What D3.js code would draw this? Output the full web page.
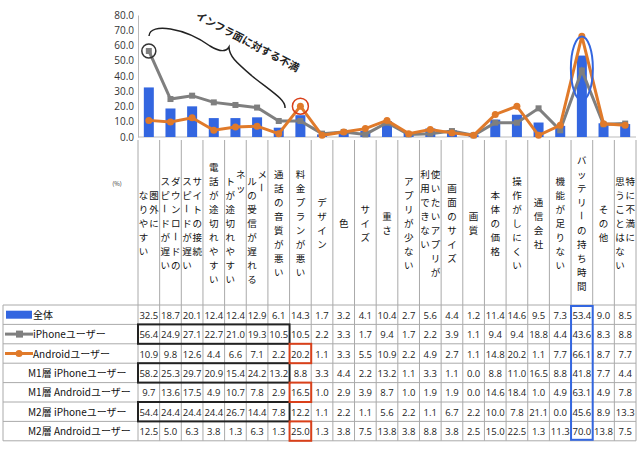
<!DOCTYPE html>
<html><head><meta charset="utf-8">
<script src="https://cdn.jsdelivr.net/npm/d3@7"></script>
<style>body{margin:0;background:#fff}text{font-family:"Noto Sans CJK JP",sans-serif}</style>
</head><body><svg id="c" width="640" height="450"></svg>
<script>
const categories=[["圏外に","なりやすい"],["ダウンロードの","スピードが遅い"],["サイトの接続","スピードが遅い"],["電話が途切れやすい"],["ネッ","トが途切れやすい"],["メー","ルの受信が遅れる"],["通話の音質が悪い"],["料金プランが悪い"],["デザイン"],["色"],["サイズ"],["重さ"],["アプリが少ない"],["使いたいアプリが","利用できない"],["画面のサイズ"],["画質"],["本体の価格"],["操作がしにくい"],["通信会社"],["機能が足りない"],["バッテリーの持ち時間"],["その他"],["特に不満に","思うことはない"]];
const seriesNames=["全体","iPhoneユーザー","Androidユーザー","M1層 iPhoneユーザー","M1層 Androidユーザー","M2層 iPhoneユーザー","M2層 Androidユーザー"];
const allValues=[32.5,18.7,20.1,12.4,12.4,12.9,6.1,14.3,1.7,3.2,4.1,10.4,2.7,5.6,4.4,1.2,11.4,14.6,9.5,7.3,53.4,9.0,8.5];
const iphoneValues=[56.4,24.9,27.1,22.7,21.0,19.3,10.5,10.5,2.2,3.3,1.7,9.4,1.7,2.2,3.9,1.1,9.4,9.4,18.8,4.4,43.6,8.3,8.8];
const androidValues=[10.9,9.8,12.6,4.4,6.6,7.1,2.2,20.2,1.1,3.3,5.5,10.9,2.2,4.9,2.7,1.1,14.8,20.2,1.1,7.7,66.1,8.7,7.7];
const m1IphoneValues=[58.2,25.3,29.7,20.9,15.4,24.2,13.2,8.8,3.3,4.4,2.2,13.2,1.1,3.3,1.1,0.0,8.8,11.0,16.5,8.8,41.8,7.7,4.4];
const m1AndroidValues=[9.7,13.6,17.5,4.9,10.7,7.8,2.9,16.5,1.0,2.9,3.9,8.7,1.0,1.9,1.9,0.0,14.6,18.4,1.0,4.9,63.1,4.9,7.8];
const m2IphoneValues=[54.4,24.4,24.4,24.4,26.7,14.4,7.8,12.2,1.1,2.2,1.1,5.6,2.2,1.1,6.7,2.2,10.0,7.8,21.1,0.0,45.6,8.9,13.3];
const m2AndroidValues=[12.5,5.0,6.3,3.8,1.3,6.3,1.3,25.0,1.3,3.8,7.5,13.8,3.8,8.8,3.8,2.5,15.0,22.5,1.3,11.3,70.0,13.8,7.5];
const yTicks=[0,10,20,30,40,50,60,70,80];
const rows=[allValues,iphoneValues,androidValues,m1IphoneValues,m1AndroidValues,m2IphoneValues,m2AndroidValues];

const svg=d3.select("#c");
const x=d3.scaleBand().domain(d3.range(categories.length)).range([138,636]);
const y=d3.scaleLinear().domain([0,80]).range([137,15]);
const blue="#3366e0",grey="#7f7f7f",orange="#e07a2a";

const ya=svg.append("g").attr("transform","translate(138,0)").call(d3.axisLeft(y).tickValues(yTicks).tickFormat(d3.format(".1f")).tickSize(0).tickPadding(4));
ya.select(".domain").attr("stroke","#bbb");
ya.selectAll("text").attr("font-size",10).attr("fill","#333").style("font-family","Open Sans");
svg.append("line").attr("x1",138).attr("x2",636).attr("y1",y(0)).attr("y2",y(0)).attr("stroke","#bbb");

svg.selectAll("rect.bar").data(allValues).join("rect").attr("x",(d,i)=>x(i)+x.bandwidth()/2-5).attr("width",10)
 .attr("y",d=>y(d)).attr("height",d=>y(0)-y(d)).attr("fill",blue);
const line=d3.line().x((d,i)=>x(i)+x.bandwidth()/2).y(d=>y(d));
svg.append("path").attr("d",line(iphoneValues)).attr("fill","none").attr("stroke",grey).attr("stroke-width",3);
svg.selectAll("rect.ip").data(iphoneValues).join("rect").attr("x",(d,i)=>x(i)+x.bandwidth()/2-3).attr("y",d=>y(d)-3).attr("width",6).attr("height",6).attr("fill",grey);
svg.append("path").attr("d",line(androidValues)).attr("fill","none").attr("stroke",orange).attr("stroke-width",3);
svg.selectAll("circle.an").data(androidValues).join("circle").attr("cx",(d,i)=>x(i)+x.bandwidth()/2).attr("cy",d=>y(d)).attr("r",3.5).attr("fill",orange);

const cx=i=>x(i)+x.bandwidth()/2;
svg.append("circle").attr("cx",cx(0)).attr("cy",y(iphoneValues[0])).attr("r",7).attr("fill","none").attr("stroke","#333").attr("stroke-width",1.5);
svg.append("circle").attr("cx",cx(7)).attr("cy",y(androidValues[7])).attr("r",8).attr("fill","none").attr("stroke","#d9401a").attr("stroke-width",1.5);
svg.append("ellipse").attr("cx",cx(20)).attr("cy",y(45)).attr("rx",11).attr("ry",32).attr("fill","none").attr("stroke",blue).attr("stroke-width",2);
svg.append("path").attr("d",`M149,36 C150,22 185,28 210,46 C220,52 226,52 229,47 C229,56 236,62 252,76 C272,92 286,100 285,108`).attr("fill","none").attr("stroke","#222").attr("stroke-width",1.5);
svg.append("text").attr("transform","translate(195,18) rotate(28)").attr("font-size",10.5).attr("font-weight","bold").attr("fill","#222").text("インフラ面に対する不満");

const tTop=140,hdrH=165,rowH=19.4;
const g=svg.append("g");
const bottom=tTop+hdrH+rowH*7;
for(let i=0;i<=categories.length;i++){const xx=i<categories.length?x(i):636;g.append("line").attr("x1",xx).attr("x2",xx).attr("y1",tTop).attr("y2",bottom).attr("stroke","#aaa");}
for(let r=0;r<=7;r++){const yy=tTop+hdrH+r*rowH;g.append("line").attr("x1",3).attr("x2",636).attr("y1",yy).attr("y2",yy).attr("stroke","#aaa");}
g.append("line").attr("x1",3).attr("x2",3).attr("y1",tTop+hdrH).attr("y2",bottom).attr("stroke","#aaa");
svg.append("text").attr("x",117).attr("y",186).attr("font-size",6).attr("fill","#333").attr("text-anchor","middle").text("(%)");
const fs=9.5,step=14;
function vtext(str,xc,y0){
  [...str].forEach((ch,j)=>{
    const yc=y0+j*step+step/2;
    const t=svg.append("text").attr("font-size",fs).attr("fill","#111").attr("text-anchor","middle").attr("dominant-baseline","central").text(ch);
    if(ch==="ー") t.attr("transform",`translate(${xc},${yc}) rotate(90)`);
    else t.attr("x",xc).attr("y",yc);
  });
}
const mid=tTop+hdrH/2;
categories.forEach((lines,i)=>{
  const maxLen=d3.max(lines,l=>l.length);
  const y0=Math.max(tTop+2,mid-maxLen*step/2);
  if(lines.length===1) vtext(lines[0],cx(i),y0);
  else { vtext(lines[0],cx(i)+5.2,y0); vtext(lines[1],cx(i)-5.2,y0+(lines[0].length<=2?step*0.5:0)); }
});
rows.forEach((vals,r)=>{
  const yy=tTop+hdrH+r*rowH+rowH/2+4;
  vals.forEach((v,i)=>svg.append("text").attr("x",cx(i)).attr("y",yy).attr("text-anchor","middle").attr("font-size",9.5).attr("fill","#222").style("font-family","Open Sans").text(v.toFixed(1)));
  svg.append("text").attr("x",r<3?33:28).attr("y",yy).attr("font-size",10).attr("fill","#111").text(seriesNames[r]);
});
const ly=r=>tTop+hdrH+r*rowH+rowH/2;
svg.append("rect").attr("x",6).attr("y",ly(0)-4).attr("width",26).attr("height",8).attr("fill",blue);
svg.append("line").attr("x1",5).attr("x2",33).attr("y1",ly(1)).attr("y2",ly(1)).attr("stroke",grey).attr("stroke-width",3);
svg.append("rect").attr("x",16).attr("y",ly(1)-3.5).attr("width",7).attr("height",7).attr("fill",grey);
svg.append("line").attr("x1",5).attr("x2",33).attr("y1",ly(2)).attr("y2",ly(2)).attr("stroke",orange).attr("stroke-width",3);
svg.append("circle").attr("cx",19).attr("cy",ly(2)).attr("r",3.5).attr("fill",orange);
[1,3,5].forEach(r=>svg.append("rect").attr("x",x(0)).attr("y",tTop+hdrH+r*rowH).attr("width",x(7)-x(0)).attr("height",rowH).attr("fill","none").attr("stroke","#222").attr("stroke-width",2));
[2,4,6].forEach(r=>svg.append("rect").attr("x",x(7)).attr("y",tTop+hdrH+r*rowH).attr("width",x.bandwidth()).attr("height",rowH).attr("fill","none").attr("stroke","#d9401a").attr("stroke-width",2));
svg.append("rect").attr("x",x(20)).attr("y",tTop+hdrH+1).attr("width",x.bandwidth()).attr("height",rowH*7-2).attr("fill","none").attr("stroke",blue).attr("stroke-width",2);
</script></body></html>
